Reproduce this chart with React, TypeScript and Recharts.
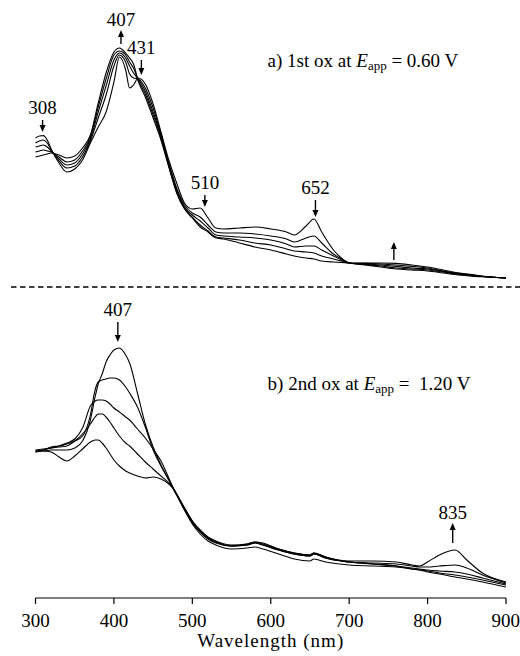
import React from 'react';
import { LineChart, Line, XAxis, YAxis, ReferenceDot } from 'recharts';

const FONT = 'Liberation Serif, Tinos, serif';

// ---------- Panel a) 1st oxidation, Eapp = 0.60 V (absorbance, mAU) ----------
const topWavelengths = [
  300, 305, 310, 315, 320, 330, 340, 350, 360, 370,
  380, 390, 400, 407, 415, 420, 425, 431, 440, 450,
  460, 470, 480, 490, 500, 510, 520, 530, 540, 560,
  580, 600, 620, 630, 645, 655, 665, 680, 690, 700,
  720, 740, 760, 780, 800, 820, 840, 860, 880, 900,
];
const topScan1 = [
  760, 770, 772, 750, 705, 635, 590, 605, 650, 735,
  815, 890, 1040, 1165, 1100, 1010, 1025, 1060, 1030, 930,
  790, 650, 535, 435, 405, 410, 360, 310, 305, 310,
  315, 305, 290, 275, 320, 355, 290, 200, 160, 135,
  125, 115, 105, 100, 95, 85, 75, 68, 65, 60,
];
const topScan2 = [
  735, 745, 750, 735, 700, 645, 610, 620, 665, 745,
  860, 975, 1120, 1175, 1140, 1080, 1060, 1055, 1010, 910,
  780, 635, 510, 425, 385, 365, 325, 290, 285, 285,
  280, 270, 255, 240, 260, 270, 235, 180, 155, 135,
  128, 120, 110, 105, 100, 90, 78, 70, 65, 60,
];
const topScan3 = [
  715, 720, 725, 715, 695, 655, 625, 635, 680, 755,
  890, 1020, 1150, 1185, 1160, 1120, 1085, 1055, 995, 890,
  770, 625, 500, 415, 375, 345, 310, 275, 270, 265,
  260, 250, 230, 215, 220, 220, 200, 170, 150, 135,
  130, 125, 118, 110, 105, 92, 80, 70, 65, 60,
];
const topScan4 = [
  690, 695, 700, 695, 690, 665, 640, 650, 695, 765,
  915, 1055, 1175, 1195, 1175, 1140, 1110, 1050, 980, 875,
  760, 620, 490, 410, 365, 325, 295, 265, 260, 250,
  235, 225, 205, 195, 190, 185, 170, 155, 145, 135,
  133, 130, 125, 118, 110, 95, 83, 73, 65, 60,
];
const topScan5 = [
  665, 670, 675, 680, 685, 675, 660, 670, 710, 775,
  935, 1085, 1190, 1210, 1185, 1160, 1130, 1045, 965, 860,
  750, 615, 485, 405, 360, 315, 290, 260, 255, 235,
  215, 200, 180, 170, 160, 155, 145, 140, 138, 135,
  135, 135, 133, 125, 115, 100, 85, 75, 65, 60,
];

// ---------- Panel b) 2nd oxidation, Eapp = 1.20 V ----------
const bottomWavelengths = [
  300, 310, 320, 330, 340, 350, 360, 370, 376, 380,
  385, 390, 395, 400, 407, 415, 420, 430, 440, 450,
  460, 470, 475, 480, 490, 500, 510, 520, 530, 550,
  570, 580, 590, 610, 630, 650, 655, 670, 700, 730,
  760, 780, 790, 800, 815, 835, 850, 870, 900,
];
const bottomScan1 = [
  735, 735, 740, 740, 740, 750, 785, 890, 1005, 1070,
  1120, 1180, 1215, 1240, 1250, 1215, 1175, 1025, 870, 755,
  665, 590, 550, 515, 445, 380, 335, 300, 280, 260,
  270, 280, 275, 245, 225, 215, 225, 205, 185, 185,
  180, 165, 160, 180, 215, 240, 190, 125, 80,
];
const bottomScan2 = [
  735, 740, 755, 760, 770, 785, 810, 915, 1040, 1080,
  1090, 1095, 1100, 1100, 1090, 1055, 1025, 955, 855, 740,
  660, 590, 555, 520, 450, 385, 340, 305, 285, 265,
  270, 280, 270, 245, 225, 215, 225, 205, 180, 175,
  170, 160, 155, 155, 160, 165, 150, 115, 75,
];
const bottomScan3 = [
  730, 740, 750, 760, 775, 795, 850, 960, 985, 990,
  990, 985, 970, 950, 930, 905, 890, 845, 800, 745,
  685, 600, 555, 515, 440, 375, 330, 295, 275, 260,
  265, 275, 265, 240, 220, 210, 220, 200, 180, 170,
  160, 150, 145, 140, 135, 130, 120, 100, 70,
];
const bottomScan4 = [
  740, 745, 750, 755, 760, 785, 820, 870, 905, 920,
  920, 905, 880, 850, 810, 775, 760, 720, 680, 645,
  610, 575, 550, 520, 450, 385, 335, 300, 280, 260,
  265, 275, 265, 240, 220, 210, 220, 200, 180, 170,
  160, 145, 140, 135, 125, 115, 105, 90, 65,
];
const bottomScan5 = [
  730, 735, 730, 705, 685, 710, 745, 780, 790, 790,
  775, 750, 720, 690, 660, 635, 625, 610, 600, 605,
  595, 570, 550, 520, 440, 370, 320, 285, 265, 245,
  250, 255, 245, 220, 195, 185, 195, 180, 165, 160,
  155, 145, 140, 130, 120, 105, 95, 80, 55,
];

const xTicks = [300, 400, 500, 600, 700, 800, 900];

// annotations: arrow tip location (wavelength, absorbance), label, direction
const topAnnotations = [
  { id: 'a308', wl: 309, value: 790, text: '308', dir: 'down' },
  { id: 'a407', wl: 409, value: 1300, text: '407', dir: 'up' },
  { id: 'a431', wl: 435, value: 1075, text: '431', dir: 'down' },
  { id: 'a510', wl: 516, value: 415, text: '510', dir: 'down' },
  { id: 'a652', wl: 657, value: 365, text: '652', dir: 'down' },
  { id: 'a760', wl: 757, value: 240, text: '', dir: 'up' },
];
const bottomAnnotations = [
  { id: 'b407', wl: 405, value: 1280, text: '407', dir: 'down' },
  { id: 'b835', wl: 832, value: 375, text: '835', dir: 'up' },
];
const topTitle = { wl: 596, value: 1115, prefix: 'a) 1st ox at ', suffix: ' = 0.60 V' };
const bottomTitle = { wl: 596, value: 1040, prefix: 'b) 2nd ox at ', suffix: ' =  1.20 V' };

// style-only constants
const ARROW_LEN: Record<string, number> = {
  a308: 12, a407: 14, a431: 15, a510: 12, a652: 17, a760: 18, b407: 20, b835: 20,
};
const TEXT_SIZE = 19;
const textStyle = { fontFamily: FONT, fontSize: TEXT_SIZE };

const topData = topWavelengths.map((wl, i) => ({
  wl, s1: topScan1[i], s2: topScan2[i], s3: topScan3[i], s4: topScan4[i], s5: topScan5[i],
}));
const bottomData = bottomWavelengths.map((wl, i) => ({
  wl, s1: bottomScan1[i], s2: bottomScan2[i], s3: bottomScan3[i], s4: bottomScan4[i], s5: bottomScan5[i],
}));

function ArrowMark(props: any) {
  const { cx, cy, dir, len, text } = props;
  if (cx == null || cy == null) return null;
  const head = 7;
  const half = 3;
  const tailY = dir === 'down' ? cy - len : cy + len;
  const baseY = dir === 'down' ? cy - head : cy + head;
  const textY = dir === 'down' ? tailY - 6 : cy - 4;
  return (
    <g>
      <line x1={cx} y1={tailY} x2={cx} y2={baseY} stroke="#000" strokeWidth={1.4} />
      <polygon points={`${cx - half},${baseY} ${cx + half},${baseY} ${cx},${cy}`} fill="#000" />
      {text ? (
        <text x={cx} y={textY} textAnchor="middle" fill="#000" style={textStyle}>
          {text}
        </text>
      ) : null}
    </g>
  );
}

function PanelTitle(props: any) {
  const { cx, cy, prefix, suffix } = props;
  if (cx == null || cy == null) return null;
  return (
    <text x={cx} y={cy} fill="#000" style={{ ...textStyle, whiteSpace: 'pre' }}>
      <tspan>{prefix}</tspan>
      <tspan fontStyle="italic">E</tspan>
      <tspan fontSize={13} dy={3}>app</tspan>
      <tspan dy={-3}>{suffix}</tspan>
    </text>
  );
}

const series = ['s1', 's2', 's3', 's4', 's5'];

export default function App() {
  const margin = { top: 0, right: 14, bottom: 0, left: 35.5 };
  return (
    <div style={{ position: 'absolute', left: 0, top: 0, width: 520, height: 656, background: '#fff', fontFamily: FONT }}>
      <div style={{ position: 'absolute', left: 0, top: 0 }}>
        <LineChart width={520} height={290} data={topData} margin={margin}>
          <XAxis type="number" dataKey="wl" domain={[300, 900]} hide />
          <YAxis type="number" domain={[0, 1450]} hide />
          {series.map((k) => (
            <Line key={k} dataKey={k} type="monotone" stroke="#000" strokeWidth={1.1} dot={false} activeDot={false} isAnimationActive={false} />
          ))}
          {topAnnotations.map((a) => (
            <ReferenceDot key={a.id} x={a.wl} y={a.value} r={0}
              shape={(p: any) => <ArrowMark {...p} dir={a.dir} len={ARROW_LEN[a.id]} text={a.text} />} />
          ))}
          <ReferenceDot x={topTitle.wl} y={topTitle.value} r={0}
            shape={(p: any) => <PanelTitle {...p} prefix={topTitle.prefix} suffix={topTitle.suffix} />} />
        </LineChart>
      </div>
      <div style={{ position: 'absolute', left: 0, top: 290 }}>
        <LineChart width={520} height={366} data={bottomData} margin={margin}>
          <XAxis type="number" dataKey="wl" domain={[300, 900]} ticks={xTicks} height={58}
            tickSize={6} tickMargin={10} stroke="#000"
            axisLine={{ stroke: '#000', strokeWidth: 1.2 }} tickLine={{ stroke: '#000', strokeWidth: 1.2 }}
            tick={{ fill: '#000', fontSize: TEXT_SIZE, fontFamily: FONT, style: textStyle }}
            label={{ value: 'Wavelength (nm)', position: 'insideBottom', offset: 9, fill: '#000', style: { ...textStyle, letterSpacing: 1 } }} />
          <YAxis type="number" domain={[0, 1540]} hide />
          {series.map((k) => (
            <Line key={k} dataKey={k} type="monotone" stroke="#000" strokeWidth={1.1} dot={false} activeDot={false} isAnimationActive={false} />
          ))}
          {bottomAnnotations.map((a) => (
            <ReferenceDot key={a.id} x={a.wl} y={a.value} r={0}
              shape={(p: any) => <ArrowMark {...p} dir={a.dir} len={ARROW_LEN[a.id]} text={a.text} />} />
          ))}
          <ReferenceDot x={bottomTitle.wl} y={bottomTitle.value} r={0}
            shape={(p: any) => <PanelTitle {...p} prefix={bottomTitle.prefix} suffix={bottomTitle.suffix} />} />
        </LineChart>
      </div>
      <svg width={520} height={656} style={{ position: 'absolute', left: 0, top: 0, pointerEvents: 'none' }}>
        <line x1={11} y1={287} x2={520} y2={287} stroke="#000" strokeWidth={1.4} strokeDasharray="5.5 3.5" />
      </svg>
    </div>
  );
}
